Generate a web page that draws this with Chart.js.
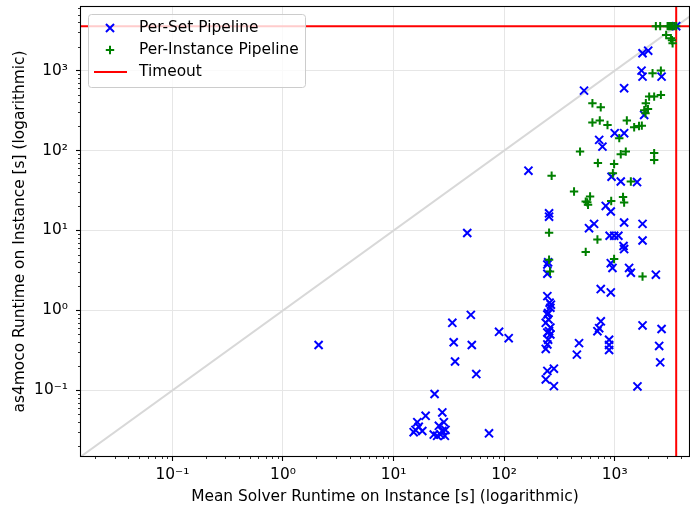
<!DOCTYPE html>
<html><head><meta charset="utf-8">
<script src="https://cdn.jsdelivr.net/npm/chart.js@4.4.1/dist/chart.umd.min.js"></script>
<style>html,body{margin:0;padding:0;background:#fff;overflow:hidden}canvas{display:block}</style>
</head><body>
<canvas id="c" width="690" height="506"></canvas>
<script>
// ---- data ----
const perSetX = [2.1, 50, 34, 35, 51, 36, 56, 90, 110, 23.5, 73, 16.4, 19.5, 15.2, 18.2, 23.1, 27.6, 28.5, 25.7, 29.5, 26.6, 24.8, 29.1, 15.8, 16.9, 27.6,
  246, 258, 262, 246, 252, 238, 262, 246, 262, 250, 246, 238, 246, 238, 282, 282, 250, 265, 255, 246, 246, 250, 255, 255, 166, 46.4,
  476, 455, 698, 749, 724, 748, 922, 890, 890, 890, 1786, 2655, 2525, 2579, 1607, 922, 955, 1350, 1400, 2357,
  586, 651, 1217, 1786, 1786, 900, 990, 1080, 1202, 1217, 830, 922, 937, 1135, 1593, 724, 775, 1000, 1217, 1847,
  528, 1217, 1786, 2010, 1749, 1786, 2655, 3600];
const perSetY = [0.37, 0.88, 0.70, 0.40, 0.37, 0.23, 0.16, 0.54, 0.45, 0.090, 0.029, 0.040, 0.048, 0.030, 0.031, 0.028, 0.053, 0.040, 0.036, 0.032, 0.028, 0.027, 0.027, 0.032, 0.035, 0.031,
  1.51, 1.25, 1.08, 0.89, 0.77, 0.70, 0.61, 0.53, 0.50, 0.43, 0.376, 0.33, 0.175, 0.137, 0.187, 0.113, 0.93, 1.18, 0.55, 3.76, 2.88, 4.0, 16.4, 14.9, 56, 9.3,
  0.39, 0.28, 0.55, 0.73, 0.60, 1.85, 1.68, 0.43, 0.37, 0.32, 0.65, 0.585, 0.36, 0.224, 0.112, 3.9, 3.4, 3.4, 2.96, 2.8,
  10.7, 12.1, 12.6, 12.1, 7.5, 8.6, 8.6, 8.6, 6.4, 5.85, 20.3, 17.3, 47, 41, 40.3, 136, 112, 165, 165, 279,
  562, 603, 1650, 1778, 1000, 841, 841, 3600];
const perInstanceX = [269, 429, 547, 574, 599, 565, 255, 698, 547, 255, 260, 486, 705, 988, 1135, 1260, 2275, 2275, 963, 1400,
  930, 1190, 1217, 988, 1786, 1100, 629, 748, 629, 733, 861, 1288, 1500, 1660, 1760, 2050, 2275, 2617, 1913, 1850, 1900, 2000,
  2200, 2617, 2357, 2579, 3007, 3100, 3223, 3300, 3455, 3600, 2920, 3223, 3340, 3300];
const perInstanceY = [48.3, 30.7, 23, 21, 26.6, 22.5, 9.4, 7.7, 5.4, 4.3, 3.07, 97, 70, 68, 90, 97, 93, 76, 52, 41,
  23.4, 26.2, 22.4, 4.4, 2.66, 143, 391, 348, 224, 238, 209, 238, 196, 203, 205, 473, 473, 497, 391, 320, 293, 330,
  928, 1000, 3600, 3600, 3600, 3600, 3600, 3600, 3600, 3600, 2793, 2540, 2200, 2400];
const timeoutValue = 3600;
const diagonalEnds = [0.01, 10000];
const xRange = [0.0149, 4700];
const yRange = [0.0151, 6250];
const majorTicks = [0.1, 1, 10, 100, 1000];
const majorTickLabels = ['10⁻¹', '10⁰', '10¹', '10²', '10³'];
const minorDecades = [0.01, 0.1, 1, 10, 100, 1000];
const minorMultipliers = [2, 3, 4, 5, 6, 7, 8, 9];
const seriesLabels = ['Per-Set Pipeline', 'Per-Instance Pipeline', 'Timeout'];
const xTitle = 'Mean Solver Runtime on Instance [s] (logarithmic)';
const yTitle = 'as4moco Runtime on Instance [s] (logarithmic)';

const FONT = "'DejaVu Sans', sans-serif";
const FS = 15.4;
const BLUE = '#0000ff', GREEN = '#008000', RED = '#ff0000';

const tickLabel = v => { const i = majorTicks.indexOf(v); return i < 0 ? '' : majorTickLabels[i]; };

const framePlugin = {
  id: 'frame',
  afterDraw(chart) {
    const {ctx, chartArea: a, scales} = chart;
    ctx.save();
    // minor ticks
    ctx.strokeStyle = '#000'; ctx.lineWidth = 0.8;
    ctx.beginPath();
    for (const d of minorDecades) for (const m of minorMultipliers) {
      const v = d * m;
      if (v > scales.x.min && v < scales.x.max) {
        const px = Math.round(scales.x.getPixelForValue(v)) + 0.5;
        ctx.moveTo(px, a.bottom); ctx.lineTo(px, a.bottom + 3);
      }
      if (v > scales.y.min && v < scales.y.max) {
        const py = Math.round(scales.y.getPixelForValue(v)) + 0.5;
        ctx.moveTo(a.left, py); ctx.lineTo(a.left - 3, py);
      }
    }
    ctx.stroke();
    // spines
    ctx.lineWidth = 1.1; ctx.strokeStyle = '#000';
    ctx.strokeRect(a.left - 0.5, a.top - 0.5, a.right - a.left + 1, a.bottom - a.top + 1);
    // legend
    const lx = a.left + 7, ly = a.top + 7, lw = 217, lh = 73;
    ctx.beginPath();
    ctx.roundRect(lx + 0.5, ly + 0.5, lw, lh, 3);
    ctx.fillStyle = 'rgba(255,255,255,0.8)'; ctx.fill();
    ctx.strokeStyle = '#cccccc'; ctx.lineWidth = 1; ctx.stroke();
    const mx = lx + 22, tx = lx + 51;
    const rows = [ly + 14, ly + 36, ly + 58];
    ctx.lineWidth = 2;
    ctx.strokeStyle = BLUE;
    Chart.helpers.drawPoint(ctx, {pointStyle: 'crossRot', radius: 5.7, borderWidth: 2, rotation: 0}, mx, rows[0]);
    ctx.strokeStyle = GREEN;
    Chart.helpers.drawPoint(ctx, {pointStyle: 'cross', radius: 4.2, borderWidth: 2, rotation: 0}, mx, rows[1]);
    ctx.strokeStyle = RED; ctx.beginPath();
    ctx.moveTo(mx - 16, rows[2]); ctx.lineTo(mx + 17, rows[2]); ctx.stroke();
    ctx.fillStyle = '#000'; ctx.font = FS + 'px ' + FONT; ctx.textBaseline = 'middle'; ctx.textAlign = 'left';
    seriesLabels.forEach((t, i) => ctx.fillText(t, tx, rows[i]));
    ctx.restore();
  }
};

const axisCommon = {
  type: 'logarithmic',
  grid: {color: '#e6e6e6', lineWidth: 1, tickColor: '#000', tickLength: 5, tickWidth: 1.1},
  border: {display: false},
};

new Chart(document.getElementById('c'), {
  type: 'scatter',
  data: {
    datasets: [
      {type: 'line', label: 'Diagonal', data: diagonalEnds.map(v => ({x: v, y: v})), borderColor: '#d8d8d8', borderWidth: 2, pointRadius: 0, order: 5},
      {type: 'line', label: seriesLabels[2], data: diagonalEnds.map(v => ({x: v, y: timeoutValue})), borderColor: RED, borderWidth: 2, pointRadius: 0, order: 4},
      {type: 'line', label: seriesLabels[2] + ' (x)', data: diagonalEnds.map(v => ({x: timeoutValue, y: v})), borderColor: RED, borderWidth: 2, pointRadius: 0, order: 3},
      {type: 'scatter', label: seriesLabels[0], data: perSetX.map((x, i) => ({x, y: perSetY[i]})), pointStyle: 'crossRot', pointRadius: 5.7, pointBorderWidth: 2, borderColor: BLUE, backgroundColor: BLUE, order: 2},
      {type: 'scatter', label: seriesLabels[1], data: perInstanceX.map((x, i) => ({x, y: perInstanceY[i]})), pointStyle: 'cross', pointRadius: 4.2, pointBorderWidth: 2, borderColor: GREEN, backgroundColor: GREEN, order: 1},
    ]
  },
  options: {
    responsive: false,
    devicePixelRatio: 1,
    animation: false,
    events: [],
    layout: {autoPadding: false, padding: {top: 7, right: 1, left: 0, bottom: 0}},
    plugins: {legend: {display: false}, tooltip: {enabled: false}},
    scales: {
      x: Object.assign({}, axisCommon, {
        position: 'bottom', min: xRange[0], max: xRange[1],
        afterBuildTicks: s => { s.ticks = majorTicks.map(v => ({value: v})); },
        afterFit: s => { s.height = 50; s.paddingLeft = 0; s.paddingRight = 0; },
        ticks: {callback: tickLabel, font: {family: FONT, size: FS}, color: '#000', padding: 5, maxRotation: 0, autoSkip: false},
        title: {display: true, text: xTitle, font: {family: FONT, size: FS}, color: '#000', padding: {top: 0, bottom: 0}}
      }),
      y: Object.assign({}, axisCommon, {
        position: 'left', min: yRange[0], max: yRange[1],
        afterBuildTicks: s => { s.ticks = majorTicks.map(v => ({value: v})); },
        afterFit: s => { s.width = 81; s.paddingTop = 0; s.paddingBottom = 0; },
        ticks: {callback: tickLabel, font: {family: FONT, size: FS}, color: '#000', padding: 8, autoSkip: false},
        title: {display: true, text: yTitle, font: {family: FONT, size: FS}, color: '#000', padding: {top: 11, bottom: 0}}
      })
    }
  },
  plugins: [framePlugin]
});
</script>
</body></html>
